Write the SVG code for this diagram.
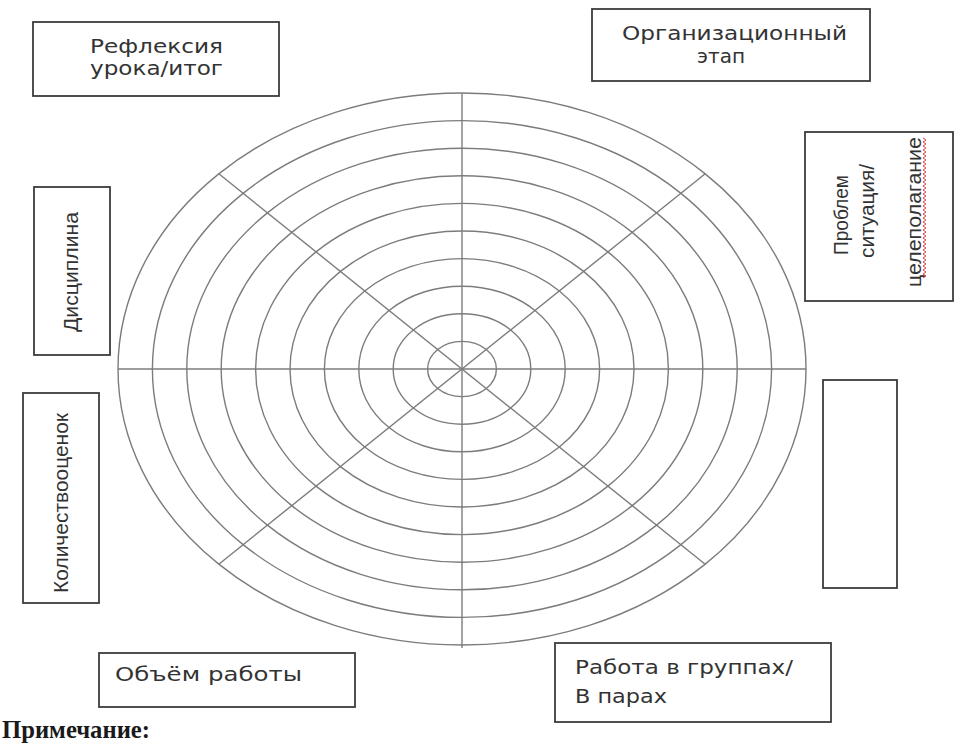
<svg xmlns="http://www.w3.org/2000/svg" width="956" height="753" viewBox="0 0 956 753">
<style>
.bg{fill:#ffffff}
.box{fill:#ffffff;stroke:#3c3c3c;stroke-width:1.8}
.ring{fill:none;stroke:#7c7c7c;stroke-width:1.4}
.spoke{stroke:#7c7c7c;stroke-width:1.4}
.h{font-family:"DejaVu Sans","Verdana",sans-serif;font-size:19.5px;fill:#333333}
.v{font-family:"Liberation Sans","Arial",sans-serif;font-size:20.5px;fill:#333333}
.note{font-family:"Liberation Serif","Times New Roman",serif;font-size:25px;font-weight:bold;fill:#1a1a1a}
.squiggle{fill:none;stroke:#e04040;stroke-width:1}
</style>
<rect class="bg" x="0" y="0" width="956" height="753"/>

<g id="wheel">
  <ellipse class="ring" cx="462" cy="369" rx="34.4" ry="27.6"/>
  <ellipse class="ring" cx="462" cy="369" rx="68.8" ry="55.2"/>
  <ellipse class="ring" cx="462" cy="369" rx="103.2" ry="82.8"/>
  <ellipse class="ring" cx="462" cy="369" rx="137.6" ry="110.4"/>
  <ellipse class="ring" cx="462" cy="369" rx="172" ry="138"/>
  <ellipse class="ring" cx="462" cy="369" rx="206.4" ry="165.6"/>
  <ellipse class="ring" cx="462" cy="369" rx="240.8" ry="193.2"/>
  <ellipse class="ring" cx="462" cy="369" rx="275.2" ry="220.8"/>
  <ellipse class="ring" cx="462" cy="369" rx="309.6" ry="248.4"/>
  <ellipse class="ring" cx="462" cy="369" rx="344" ry="276"/>
</g>

<g id="connectors">
  <line class="spoke" x1="462" y1="93" x2="462" y2="648"/>
  <line class="spoke" x1="118" y1="369" x2="806" y2="369"/>
  <line class="spoke" x1="218.8" y1="173.8" x2="705.2" y2="564.2"/>
  <line class="spoke" x1="705.2" y1="173.8" x2="218.8" y2="564.2"/>
</g>

<g id="node-reflection">
  <rect class="box" x="33" y="22" width="246" height="74"/>
  <text class="h" x="90" y="53" textLength="133" lengthAdjust="spacingAndGlyphs">Рефлексия</text>
  <text class="h" x="90" y="75" textLength="133" lengthAdjust="spacingAndGlyphs">урока/итог</text>
</g>

<g id="node-org">
  <rect class="box" x="592" y="9" width="278" height="72"/>
  <text class="h" x="622" y="40" textLength="225" lengthAdjust="spacingAndGlyphs">Организационный</text>
  <text class="h" x="697" y="63" textLength="48" lengthAdjust="spacingAndGlyphs">этап</text>
</g>

<g id="node-problem">
  <rect class="box" x="805" y="132" width="148" height="169"/>
  <text class="v" transform="translate(848,215) rotate(-90)" x="-40" y="0" textLength="80" lengthAdjust="spacingAndGlyphs">Проблем</text>
  <text class="v" transform="translate(874,211) rotate(-90)" x="-47" y="0" textLength="94" lengthAdjust="spacingAndGlyphs">ситуация/</text>
  <text class="v" transform="translate(921,212) rotate(-90)" x="-75" y="0" textLength="150" lengthAdjust="spacingAndGlyphs">целеполагание</text>
  <path class="squiggle" d="M923 138 l3 2 -3 2 l3 2 -3 2 l3 2 -3 2 l3 2 -3 2 l3 2 -3 2 l3 2 -3 2 l3 2 -3 2 l3 2 -3 2 l3 2 -3 2 l3 2 -3 2 l3 2 -3 2 l3 2 -3 2 l3 2 -3 2 l3 2 -3 2 l3 2 -3 2 l3 2 -3 2 l3 2 -3 2 l3 2 -3 2 l3 2 -3 2 l3 2 -3 2 l3 2 -3 2 l3 2 -3 2 l3 2 -3 2 l3 2 -3 2 l3 2 -3 2 l3 2 -3 2 l3 2 -3 2 l3 2 -3 2 l3 2 -3 2 l3 2 -3 2 l3 2 -3 2 l3 2 -3 2 l3 2 -3 2 l3 2 -3 2 l3 2 -3 2"/>
</g>

<g id="node-discipline">
  <rect class="box" x="34" y="187" width="76" height="168"/>
  <text class="v" transform="translate(78,272) rotate(-90)" x="-60" y="0" textLength="120" lengthAdjust="spacingAndGlyphs">Дисциплина</text>
</g>

<g id="node-grades">
  <rect class="box" x="23" y="393" width="76" height="210"/>
  <text class="v" transform="translate(68,503) rotate(-90)" x="-90" y="0" textLength="180" lengthAdjust="spacingAndGlyphs">Количествооценок</text>
</g>

<g id="node-empty">
  <rect class="box" x="823" y="380" width="74" height="208"/>
</g>

<g id="node-volume">
  <rect class="box" x="99" y="653" width="256" height="54"/>
  <text class="h" x="115" y="681" textLength="187" lengthAdjust="spacingAndGlyphs">Объём работы</text>
</g>

<g id="node-groups">
  <rect class="box" x="555" y="643" width="276" height="79"/>
  <text class="h" x="575" y="674" textLength="218" lengthAdjust="spacingAndGlyphs">Работа в группах/</text>
  <text class="h" x="575" y="703" textLength="92" lengthAdjust="spacingAndGlyphs">В парах</text>
</g>

<text class="note" x="2" y="738" textLength="148" lengthAdjust="spacingAndGlyphs">Примечание:</text>
</svg>
